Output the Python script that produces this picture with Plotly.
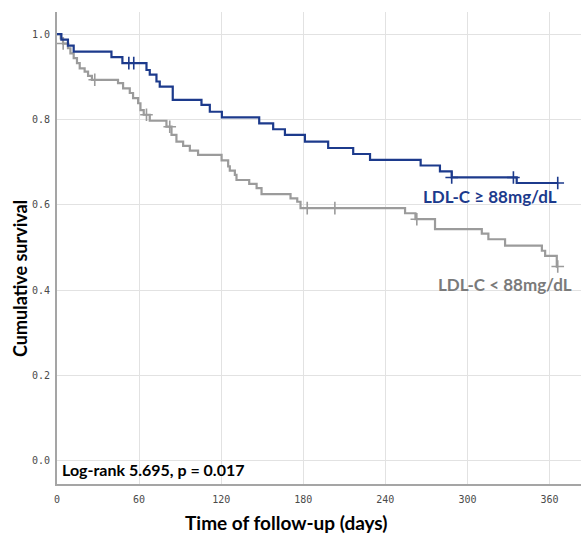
import plotly.graph_objects as go

# ---- data ----
high_times = [3.2, 8, 12.2, 39.8, 47.8, 65.4, 67.8, 72.7, 75.1, 84.6, 105.6, 111.7,
              120.5, 147.8, 158, 166.6, 181.2, 198.2, 216.5, 228.8, 265.8, 279.9, 288.5, 336]
high_surv = [0.987, 0.973, 0.959, 0.946, 0.932, 0.916, 0.905, 0.889, 0.877, 0.846, 0.834, 0.818,
             0.805, 0.791, 0.777, 0.764, 0.748, 0.733, 0.719, 0.705, 0.692, 0.678, 0.664, 0.651]
high_censor_t = [52.5, 56.1, 288.5, 333.6, 366]
high_censor_s = [0.932, 0.932, 0.664, 0.664, 0.651]
high_end = 366

low_times = [2.7, 4.4, 8, 9.8, 12.2, 14.6, 16.6, 20.2, 22.7, 25.5, 44.6, 48.3, 53.2, 55.6,
             59.3, 61, 63.4, 67.8, 80, 83.7, 87.3, 92.2, 97.1, 103.1, 120.3, 125.1, 126.3,
             130, 131.2, 140.5, 145.9, 149.5, 170.7, 175.6, 178, 254.4, 262, 276.3, 310.5,
             315.3, 327.5, 354.4, 356.8, 365.3]
low_surv = [0.99, 0.978, 0.967, 0.955, 0.944, 0.932, 0.92, 0.912, 0.902, 0.893, 0.885, 0.873,
            0.862, 0.85, 0.838, 0.822, 0.811, 0.797, 0.783, 0.764, 0.748, 0.738, 0.727, 0.717,
            0.704, 0.69, 0.68, 0.67, 0.658, 0.649, 0.639, 0.625, 0.615, 0.607, 0.592, 0.58,
            0.566, 0.543, 0.532, 0.519, 0.504, 0.492, 0.48, 0.455]
low_censor_t = [4.5, 27.6, 65.4, 82.4, 182.9, 203.1, 263, 366]
low_censor_s = [0.978, 0.893, 0.811, 0.783, 0.592, 0.592, 0.566, 0.455]
low_end = 366

x_ticks = [0, 60, 120, 180, 240, 300, 360]
y_ticks = [0.0, 0.2, 0.4, 0.6, 0.8, 1.0]

BLUE = "#1c3a8c"
GRAY = "#9b9b9b"

fig = go.Figure()


def add_curve(times, surv, end, ct, cs, color):
    xs = [0] + times + [end]
    ys = [1.0] + surv + [surv[-1]]
    fig.add_trace(go.Scatter(x=xs, y=ys, mode="lines", line=dict(color=color, width=2.2, shape="hv"),
                             showlegend=False, hoverinfo="skip"))
    fig.add_trace(go.Scatter(x=ct, y=cs, mode="markers",
                             marker=dict(symbol="cross-thin-open", size=9, color=color,
                                         line=dict(color=color, width=1.6)),
                             showlegend=False, hoverinfo="skip"))


add_curve(low_times, low_surv, low_end, low_censor_t, low_censor_s, GRAY)
add_curve(high_times, high_surv, high_end, high_censor_t, high_censor_s, BLUE)

tick_font = dict(family="DejaVu Sans Mono", size=10, color="#4a4a4a")

fig.update_xaxes(range=[0, 383], tickvals=x_ticks, ticktext=[str(v) for v in x_ticks],
                 showgrid=True, gridcolor="#e2e2e2", gridwidth=1.2, zeroline=False,
                 showline=True, linecolor="#a5a5a5", linewidth=2,
                 ticks="outside", ticklen=5, tickcolor="rgba(0,0,0,0)", tickfont=tick_font)
fig.update_yaxes(range=[-0.055, 1.052], tickvals=y_ticks, ticktext=["%.1f" % v for v in y_ticks],
                 showgrid=True, gridcolor="#e2e2e2", gridwidth=1.2, zeroline=False,
                 showline=True, linecolor="#a5a5a5", linewidth=2,
                 ticks="outside", ticklen=3, tickcolor="rgba(0,0,0,0)", tickfont=tick_font)

TXT = "Lato"
fig.add_annotation(x=0.4386, y=-0.0826, xref="paper", yref="paper", xanchor="center", yanchor="middle",
                   text="<b>Time of follow-up (days)</b>", showarrow=False,
                   font=dict(family=TXT, size=19, color="#000000"))
fig.add_annotation(x=-0.071, y=0.436, xref="paper", yref="paper", xanchor="center", yanchor="middle",
                   text="<b>Cumulative survival</b>", textangle=-90, showarrow=False,
                   font=dict(family=TXT, size=18, color="#000000"))
fig.add_annotation(x=316.5, y=0.619, xref="x", yref="y", xanchor="center", yanchor="middle",
                   text="<b>LDL-C ≥ 88mg/dL</b>", showarrow=False,
                   font=dict(family=TXT, size=17, color=BLUE))
fig.add_annotation(x=327.5, y=0.414, xref="x", yref="y", xanchor="center", yanchor="middle",
                   text="<b>LDL-C < 88mg/dL</b>", showarrow=False,
                   font=dict(family=TXT, size=17, color="#7a7a7a"))
fig.add_annotation(x=2.0, y=-0.022, xref="x", yref="y", xanchor="left", yanchor="middle",
                   text="<b>Log-rank 5.695, p = 0.017</b>", showarrow=False,
                   font=dict(family=TXT, size=16, color="#000000"))

fig.update_layout(width=581, height=537, margin=dict(l=57, r=0, t=12, b=53),
                  plot_bgcolor="white", paper_bgcolor="white")

fig.write_html("out.html", config={"displayModeBar": False},
               post_script="document.body.style.margin='0';")
